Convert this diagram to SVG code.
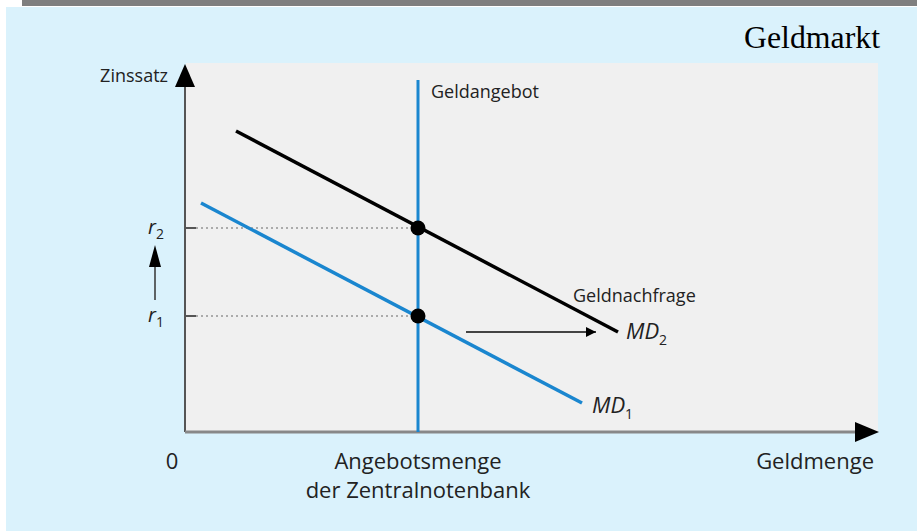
<svg xmlns="http://www.w3.org/2000/svg" width="917" height="531" viewBox="0 0 917 531">
<defs>
<style>
.t{font-family:"Open Sans","Noto Sans",sans-serif;font-size:18px;fill:#222}
.b{font-family:"Open Sans","Noto Sans",sans-serif;font-size:22px;fill:#222}
.i{font-family:"Open Sans","Noto Sans",sans-serif;font-size:22px;fill:#222;font-style:italic}
.r{font-family:"Open Sans","Noto Sans",sans-serif;font-size:20px;fill:#222;font-style:italic}
.s{font-size:14px}
.dot{stroke:#666;stroke-width:1.2;stroke-dasharray:2 3}
</style>
<marker id="ah" viewBox="0 0 10 10" refX="10" refY="5" markerWidth="10" markerHeight="10" markerUnits="userSpaceOnUse" orient="auto"><path d="M0,0 L10,5 L0,10 z" fill="#000"/></marker>
</defs>
<rect x="0" y="0" width="917" height="531" fill="#fff"/>
<rect x="22" y="0" width="895" height="6" fill="#7f7f7f"/>
<rect x="6" y="7" width="911" height="524" fill="#daf2fc"/>
<rect x="186" y="63" width="692" height="369" fill="#f0f0f0"/>
<text x="880" y="48" text-anchor="end" font-family="Liberation Serif, serif" font-size="31" textLength="136" lengthAdjust="spacingAndGlyphs" fill="#000">Geldmarkt</text>
<g id="axes">
<line x1="185" y1="432" x2="185" y2="85" stroke="#555" stroke-width="2"/>
<polygon points="185,64 175,87 195,87" fill="#000"/>
<line x1="185" y1="432" x2="857" y2="432" stroke="#888" stroke-width="3"/>
<polygon points="879,432 855,422 855,442" fill="#000"/>
<line x1="185" y1="228" x2="196" y2="228" stroke="#555" stroke-width="2"/>
<line x1="185" y1="316" x2="196" y2="316" stroke="#555" stroke-width="2"/>
</g>
<g id="connectors">
<line class="dot" x1="196" y1="228" x2="418" y2="228"/>
<line class="dot" x1="196" y1="316" x2="418" y2="316"/>
<line x1="466" y1="332" x2="596" y2="332" stroke="#444" stroke-width="2" marker-end="url(#ah)"/>
<line x1="155" y1="300" x2="155" y2="266" stroke="#333" stroke-width="1.5"/>
<polygon points="155,245 149,267 161,267" fill="#000"/>
</g>
<g id="geldangebot">
<line x1="418" y1="80" x2="418" y2="432" stroke="#1a86cf" stroke-width="3"/>
<text class="t" x="431" y="98">Geldangebot</text>
</g>
<g id="md2">
<line x1="236" y1="131" x2="618" y2="332" stroke="#000" stroke-width="3.5"/>
<text class="t" x="573" y="302">Geldnachfrage</text>
<text class="i" x="626" y="339">MD<tspan class="s" dy="6" font-style="normal">2</tspan></text>
</g>
<g id="md1">
<line x1="201" y1="203" x2="582" y2="403" stroke="#1a86cf" stroke-width="3.5"/>
<text class="i" x="592" y="413">MD<tspan class="s" dy="6" font-style="normal">1</tspan></text>
</g>
<g id="points">
<circle cx="418" cy="228" r="7.5" fill="#000"/>
<circle cx="418" cy="316" r="7.5" fill="#000"/>
</g>
<g id="labels">
<text class="t" x="168" y="82" text-anchor="end">Zinssatz</text>
<text class="r" x="148" y="234">r<tspan class="s" dy="5" font-style="normal">2</tspan></text>
<text class="r" x="148" y="322">r<tspan class="s" dy="5" font-style="normal">1</tspan></text>
<text class="b" x="172" y="469" text-anchor="middle">0</text>
<text class="b" x="418" y="469" text-anchor="middle">Angebotsmenge</text>
<text class="b" x="418" y="498" text-anchor="middle">der Zentralnotenbank</text>
<text class="b" x="874" y="469" text-anchor="end">Geldmenge</text>
</g>
</svg>
